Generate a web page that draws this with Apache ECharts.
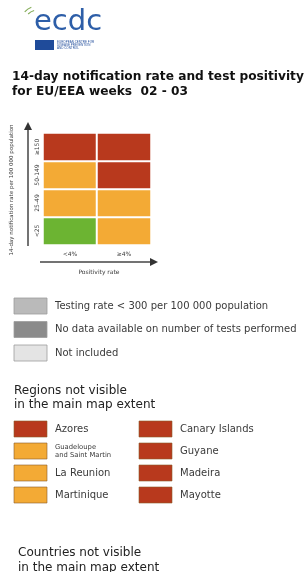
<!DOCTYPE html>
<html lang="en">
<head>
    <meta charset="utf-8">
    <title>ECDC notification rate and positivity</title>
    <script src="https://cdn.jsdelivr.net/npm/echarts@6/dist/echarts.min.js"></script>
    <style>
        html, body { margin: 0; padding: 0; background: #fff; }
        #main { width: 306px; height: 572px; }
    </style>
</head>
<body>
    <div id="main"></div>
    <script type="text/javascript">
        // 矩阵的两个维度
        var positivityCats = ['<4%', '≥4%'];
        var rateCats = ['<25', '25-49', '50-149', '≥150'];
        // 每列从下到上的等级: 0 绿, 1 橙, 2 红
        var levelsLow = [0, 1, 1, 2];
        var levelsHigh = [1, 1, 2, 2];
        var levelColors = ['#6cb432', '#f3aa35', '#b8391d'];

        // 灰色图例
        var greyLabels = ['Testing rate < 300 per 100 000 population',
                          'No data available on number of tests performed',
                          'Not included'];
        var greyColors = ['#bababa', '#8b8b8b', '#e4e4e4'];

        // 地图外区域
        var regionNamesLeft = ['Azores', 'Guadeloupe\nand Saint Martin', 'La Reunion', 'Martinique'];
        var regionLevelsLeft = [2, 1, 1, 1];
        var regionNamesRight = ['Canary Islands', 'Guyane', 'Madeira', 'Mayotte'];
        var regionLevelsRight = [2, 2, 2, 2];

        var cells = [];
        for (var i = 0; i < rateCats.length; i++) {
            cells.push([0, i, levelsLow[i]]);
            cells.push([1, i, levelsHigh[i]]);
        }

        var font = 'DejaVu Sans';
        var txt = '#3a3a3a';
        var g = [];

        // logo
        g.push({ type: 'text', left: 34, top: 8, style: { text: 'ecdc', font: '29px "DejaVu Sans"', fill: '#2d5ea8' } });
        g.push({ type: 'arc', shape: { cx: 38, cy: 24, r: 14, startAngle: -2.35, endAngle: -1.85 }, style: { stroke: '#86ad5a', lineWidth: 1.2, fill: null } });
        g.push({ type: 'arc', shape: { cx: 38, cy: 24, r: 18, startAngle: -2.4, endAngle: -1.95 }, style: { stroke: '#86ad5a', lineWidth: 1.2, fill: null } });
        g.push({ type: 'rect', shape: { x: 35, y: 40, width: 19, height: 10 }, style: { fill: '#1f4b9a' } });
        g.push({ type: 'text', left: 57, top: 40, style: { text: 'EUROPEAN CENTRE FOR\nDISEASE PREVENTION\nAND CONTROL', font: '3px sans-serif', fill: '#1f4b9a', lineHeight: 3.4 } });

        // 标题
        g.push({ type: 'text', left: 12, top: 69, style: { text: '14-day notification rate and test positivity\nfor EU/EEA weeks  02 - 03', font: 'bold 12.2px "DejaVu Sans"', fill: '#111', lineHeight: 15 } });

        // 坐标箭头
        g.push({ type: 'line', shape: { x1: 28, y1: 246, x2: 28, y2: 128 }, style: { stroke: '#444', lineWidth: 1.5 } });
        g.push({ type: 'polygon', shape: { points: [[24, 130], [32, 130], [28, 122]] }, style: { fill: '#333' } });
        g.push({ type: 'line', shape: { x1: 40, y1: 262, x2: 152, y2: 262 }, style: { stroke: '#444', lineWidth: 1.5 } });
        g.push({ type: 'polygon', shape: { points: [[150, 258], [150, 266], [158, 262]] }, style: { fill: '#333' } });
        g.push({ type: 'text', x: 12, y: 190, rotation: Math.PI / 2, style: { text: '14-day notification rate per 100 000 population', font: '5.5px "DejaVu Sans"', fill: txt, align: 'center', verticalAlign: 'middle' } });
        g.push({ type: 'text', x: 99, y: 272, style: { text: 'Positivity rate', font: '6px "DejaVu Sans"', fill: txt, align: 'center', verticalAlign: 'middle' } });

        // 灰色图例
        for (var k = 0; k < greyLabels.length; k++) {
            var yy = 298 + k * 23.5;
            g.push({ type: 'rect', shape: { x: 14, y: yy, width: 33, height: 16 }, style: { fill: greyColors[k], stroke: '#9d9d9d', lineWidth: 0.8 } });
            g.push({ type: 'text', x: 55, y: yy + 8, style: { text: greyLabels[k], font: '10px "DejaVu Sans"', fill: txt, verticalAlign: 'middle' } });
        }

        g.push({ type: 'text', left: 14, top: 384, style: { text: 'Regions not visible\nin the main map extent', font: '12px "DejaVu Sans"', fill: '#222', lineHeight: 14 } });

        function regionCol(names, levels, bx, tx) {
            for (var r = 0; r < names.length; r++) {
                var ry = 421 + r * 22;
                var two = names[r].indexOf('\n') >= 0;
                g.push({ type: 'rect', shape: { x: bx, y: ry, width: 33, height: 16 }, style: { fill: levelColors[levels[r]], stroke: '#8a5a2a', lineWidth: 0.6 } });
                g.push({ type: 'text', x: tx, y: ry + 8, style: { text: names[r], font: (two ? '6.8px' : '10px') + ' "DejaVu Sans"', fill: txt, verticalAlign: 'middle', lineHeight: two ? 8 : 12 } });
            }
        }
        regionCol(regionNamesLeft, regionLevelsLeft, 14, 55);
        regionCol(regionNamesRight, regionLevelsRight, 139, 180);

        g.push({ type: 'text', left: 18, top: 545, style: { text: 'Countries not visible\nin the main map extent', font: '12px "DejaVu Sans"', fill: '#222', lineHeight: 15 } });

        var myChart = echarts.init(document.getElementById('main'), null, { renderer: 'canvas' });
        myChart.setOption({
            animation: false,
            backgroundColor: '#fff',
            grid: { left: 43, top: 133, width: 108, height: 112 },
            xAxis: {
                type: 'category',
                data: positivityCats,
                axisLine: { show: false },
                axisTick: { show: false },
                splitArea: { show: false },
                axisLabel: { fontSize: 6, color: txt, fontFamily: font, margin: 6 }
            },
            yAxis: {
                type: 'category',
                data: rateCats,
                axisLine: { show: false },
                axisTick: { show: false },
                axisLabel: { fontSize: 6, color: txt, fontFamily: font, rotate: 90, margin: 3, align: 'center', verticalAlign: 'bottom' }
            },
            visualMap: {
                show: false,
                type: 'piecewise',
                dimension: 2,
                pieces: [
                    { value: 0, color: levelColors[0] },
                    { value: 1, color: levelColors[1] },
                    { value: 2, color: levelColors[2] }
                ]
            },
            series: [{
                type: 'heatmap',
                data: cells,
                itemStyle: { borderColor: '#fff', borderWidth: 2 }
            }],
            graphic: g
        });
    </script>
</body>
</html>
